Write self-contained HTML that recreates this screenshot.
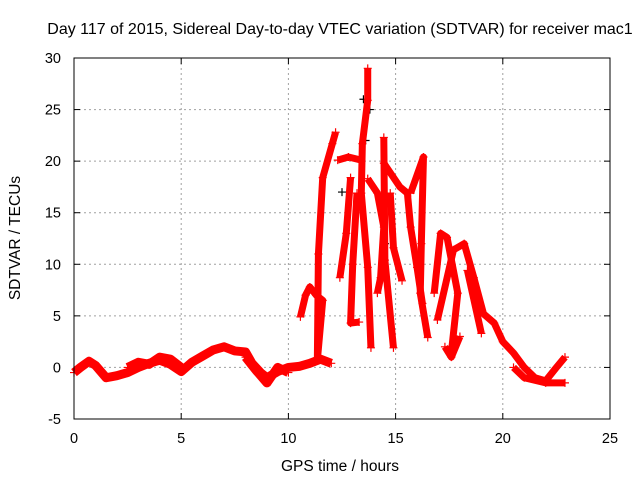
<!DOCTYPE html>
<html><head><meta charset="utf-8">
<style>
html,body{margin:0;padding:0;background:#fff}
svg{display:block;font-family:"Liberation Sans",sans-serif}
</style></head>
<body>
<svg id="chart" width="640" height="480" viewBox="0 0 640 480">
<text x="340" y="34" font-size="16" text-anchor="middle">Day 117 of 2015, Sidereal Day-to-day VTEC variation (SDTVAR) for receiver mac1</text>
<text transform="translate(20,238) rotate(-90)" font-size="15.5" text-anchor="middle">SDTVAR / TECUs</text>
<text x="340" y="471" font-size="15.5" text-anchor="middle">GPS time / hours</text>
<g id="grid"></g>
<g id="ticks"></g>
<g id="marks"></g>
<rect x="74" y="58" width="536" height="361" fill="none" stroke="#000" stroke-width="1"/>
</svg>
<script>
const xTicks=[0,5,10,15,20,25];
const yTicks=[-5,0,5,10,15,20,25,30];
const baseline=[[0,-0.5],[0.3,0],[0.7,0.6],[1,0.2],[1.5,-1],[2,-0.8],[2.5,-0.5],[3,0],[3.5,0.4],[4,0.7],[4.5,0.3],[5,-0.4],[5.5,0.5],[6,1.1],[6.5,1.7],[7,2],[7.5,1.6],[8,1.5],[8.3,0.4],[8.7,-0.5],[9,-1],[9.5,-0.4],[10,0],[10.5,0.1],[11,0.4],[11.5,0.8],[12,0.4]];
const baseline2=[[2.5,0],[3,0.5],[3.5,0.3],[4,1],[4.5,0.8],[5,0]];
const baseline3=[[8,1],[8.5,-0.3],[9,-1.5],[9.5,0],[10,-0.5]];
const pass1=[[10.56,4.9],[10.8,7],[11.0,7.8],[11.3,7],[11.6,6.5],[11.35,0.7]];
const pass2=[[11.35,0.7],[11.4,11],[11.6,18.4],[12.05,21.7],[12.2,22.8]];
const pass3=[[12.3,20.1],[12.8,20.4],[13.4,20.1]];
const pass4=[[12.9,18.4],[12.7,13],[12.4,8.7]];
const pass5=[[13.2,16.9],[13.0,10],[12.9,4.3],[13.3,4.4]];
const pass6=[[13.7,29],[13.7,25.9],[13.45,21.7],[13.4,16.9],[13.7,9.7],[13.85,1.9]];
const pass7=[[13.7,18.3],[14.15,16.9],[14.45,13.6],[14.3,8.7],[14.15,7.2]];
const pass8=[[14.45,22.3],[14.5,10.4],[14.9,1.9]];
const pass9=[[14.45,19.8],[15.2,17.5],[15.55,16.9],[15.7,13.6],[16.0,9.7],[16.25,6.2]];
const pass10=[[14.75,16.9],[14.9,11.6],[15.3,8.4]];
const pass11=[[15.7,16.9],[16.3,20.4],[16.2,12],[16.15,7.2],[16.5,2.9]];
const pass12=[[16.8,7.2],[17.1,13],[17.4,12.6],[17.9,7.2],[17.6,1.4]];
const pass13=[[16.95,4.6],[17.7,11.4],[18.2,12],[18.65,8.7],[19.1,5.2],[19.6,4.3],[20.0,2.5],[20.5,1.4],[21,0],[21.5,-1],[22,-1.3],[22.5,0],[22.9,1]];
const pass14=[[18.35,9.4],[19.0,3.3]];
const pass15=[[20.5,0],[21,-1],[22,-1.5],[22.9,-1.5]];
const pass16=[[17.3,2],[17.6,1],[18.0,3]];
const blackPts=[[13.5,26],[13.8,25],[13.6,22],[12.5,17],[14.5,12]];
const series=[baseline,baseline2,baseline3,pass1,pass2,pass3,pass4,pass5,pass6,pass7,pass8,pass9,pass10,pass11,pass12,pass13,pass14,pass15,pass16];

const X0=74,X1=610,Y0=419,Y1=58;
const xs=v=>X0+(v-0)/(25-0)*(X1-X0);
const ys=v=>Y0-(v+5)/35*(Y0-Y1);
const NS='http://www.w3.org/2000/svg';
function mk(t,a,p){const e=document.createElementNS(NS,t);for(const k in a)e.setAttribute(k,a[k]);p.appendChild(e);return e;}
const grid=document.getElementById('grid'),ticks=document.getElementById('ticks'),marks=document.getElementById('marks');
xTicks.forEach(t=>{const x=xs(t);
 if(t>0&&t<25){const g=mk('line',{x1:x,x2:x,y1:Y1,y2:Y0,stroke:'#a0a0a0','stroke-dasharray':'2,3'},grid);
 
 }
 mk('line',{x1:x,x2:x,y1:Y0,y2:Y0-6,stroke:'#000'},ticks);mk('line',{x1:x,x2:x,y1:Y1,y2:Y1+6,stroke:'#000'},ticks);
 const l=mk('text',{x:x,y:443,'font-size':14.5,'text-anchor':'middle'},ticks);l.textContent=t;
 
 });
yTicks.forEach(t=>{const y=ys(t);
 if(t>-5&&t<30){const g=mk('line',{x1:X0,x2:X1,y1:y,y2:y,stroke:'#a0a0a0','stroke-dasharray':'2,3'},grid);
 
 }
 mk('line',{x1:X0,x2:X0+6,y1:y,y2:y,stroke:'#000'},ticks);mk('line',{x1:X1,x2:X1-6,y1:y,y2:y,stroke:'#000'},ticks);
 const l=mk('text',{x:61,y:y+5,'font-size':14.5,'text-anchor':'end'},ticks);l.textContent=t;
 
 });
function plus(x,y,c){mk('path',{d:`M${x-4} ${y}h8M${x} ${y-4}v8`,stroke:c,'stroke-width':1.2},marks);}
blackPts.forEach(p=>plus(xs(p[0]),ys(p[1]),'#000'));
series.forEach((s,i)=>{
 const w=(i<3)?9:7;
 const pl=mk('polyline',{points:s.map(p=>xs(p[0])+','+ys(p[1])).join(' '),fill:'none',stroke:'#ff0000','stroke-width':w,'stroke-linejoin':'round'},marks);
 
 
 s.forEach(p=>plus(xs(p[0]),ys(p[1]),'#ff0000'));
});
</script>
</body></html>
